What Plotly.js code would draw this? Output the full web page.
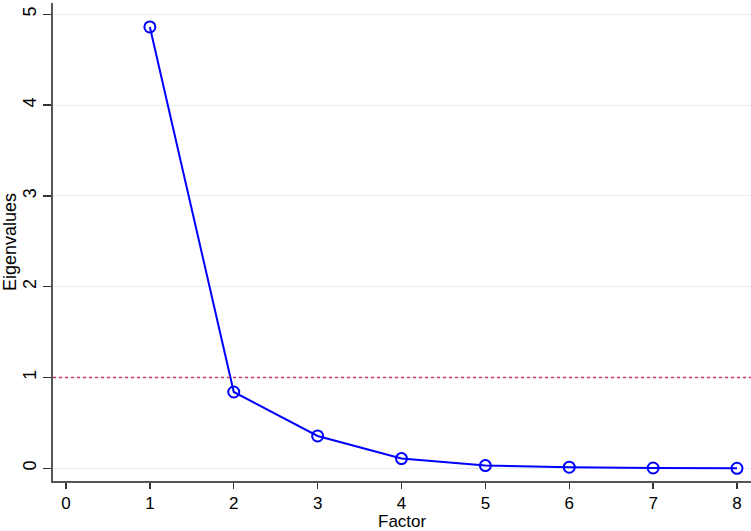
<!DOCTYPE html>
<html>
<head>
<meta charset="utf-8">
<script src="https://cdn.plot.ly/plotly-3.0.1.min.js"></script>
<style>html,body{margin:0;padding:0;background:#fff;}#chart{width:751px;height:531px;}</style>
</head>
<body>
<div id="chart"></div>
<script>
const factors = [1, 2, 3, 4, 5, 6, 7, 8];
const eigenvalues = [4.86, 0.84, 0.356, 0.107, 0.03, 0.012, 0.003, 0.0];
const xTicks = [0, 1, 2, 3, 4, 5, 6, 7, 8];
const yTicks = [0, 1, 2, 3, 4, 5];
const refValue = 1;
const xTitle = 'Factor';
const yTitle = 'Eigenvalues';

const traces = [
  {
    x: factors,
    y: eigenvalues,
    type: 'scatter',
    mode: 'lines+markers',
    line: {color: '#0000ff', width: 2},
    marker: {symbol: 'circle-open', size: 11, color: '#0000ff', line: {width: 2, color: '#0000ff'}},
    showlegend: false,
    hoverinfo: 'skip'
  }
];

const font = {family: '"Liberation Sans", Arial, sans-serif', color: '#000', size: 18};

const layout = {
  width: 751, height: 531,
  margin: {l: 53, r: 0, t: 3, b: 50},
  paper_bgcolor: '#fff', plot_bgcolor: '#fff',
  font: font,
  showlegend: false,
  xaxis: {
    range: [-0.155, 8.167],
    tickmode: 'array', tickvals: xTicks, ticktext: xTicks.map(String),
    ticks: 'outside', ticklen: 6, tickwidth: 1.3, tickcolor: '#333',
    showline: true, linecolor: '#555', linewidth: 2,
    showgrid: false, zeroline: false,
    tickfont: {size: 17},
    ticklabelstandoff: 0,
    automargin: false
  },
  yaxis: {
    range: [-0.14, 5.124],
    tickmode: 'array', tickvals: yTicks, ticktext: yTicks.map(String),
    ticks: 'outside', ticklen: 8, tickwidth: 1.3, tickcolor: '#333',
    tickangle: -90,
    showline: true, linecolor: '#555', linewidth: 2,
    showgrid: true, gridcolor: '#e6eef0', gridwidth: 1,
    zeroline: false,
    tickfont: {size: 18},
    ticklabelstandoff: 0,
    automargin: false
  },
  annotations: [
    {text: xTitle, xref: 'paper', x: 0.5, yref: 'paper', y: -0.085, xanchor: 'center', yanchor: 'middle',
     borderpad: 0, showarrow: false, font: {size: 17}},
    {text: yTitle, xref: 'paper', x: -0.0616, yref: 'paper', y: 0.5, xanchor: 'center', yanchor: 'middle',
     borderpad: 0, textangle: -90, showarrow: false, font: {size: 18}}
  ],
  shapes: [
    {type: 'line', xref: 'paper', x0: 0, x1: 1, yref: 'y', y0: refValue, y1: refValue,
     line: {color: '#d8306a', width: 1.5, dash: 'dot'}, layer: 'above'}
  ]
};

Plotly.newPlot('chart', traces, layout, {displayModeBar: false, staticPlot: true});
</script>
</body>
</html>
